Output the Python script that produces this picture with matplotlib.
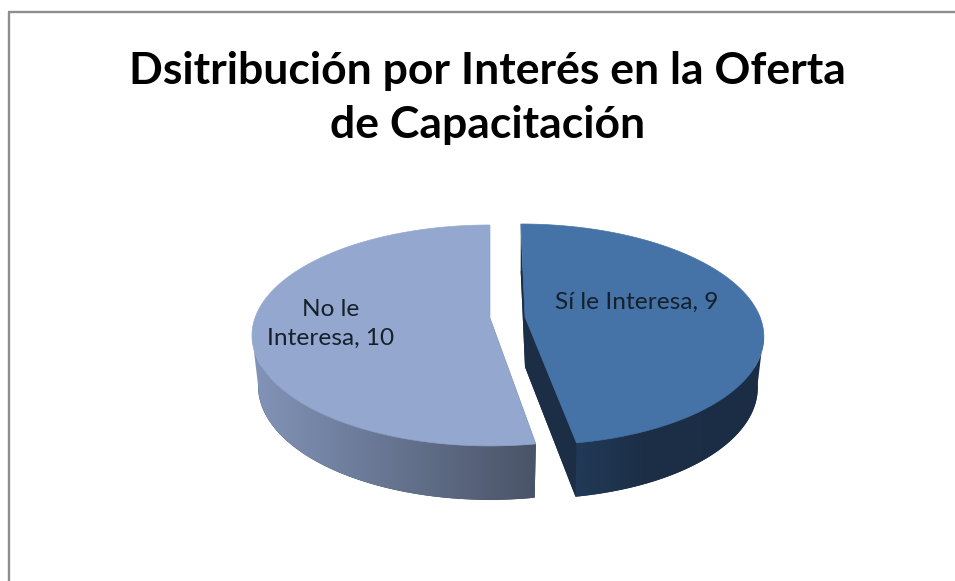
import numpy as np
import matplotlib
matplotlib.use('Agg')
import matplotlib.pyplot as plt
from matplotlib.patches import Polygon

titulo = 'Dsitribución por Interés en la Oferta\nde Capacitación'
categorias = ['Sí le Interesa', 'No le\nInteresa']
valores = [9, 10]

ANCHO, ALTO = 955, 581
COLOR_BORDE = '#8e8e8e'
COLOR_OSCURO = '#1c2e45'


def Proyectar(t, vertice, shear, ancho, alto, k=0.158):
    # t es el angulo desde arriba en sentido horario, con perspectiva simple
    u = np.sin(t)
    v = -np.cos(t)
    d = 1 - k * v
    dy = alto * v / d
    return vertice[0] + ancho * u / d + shear * dy, vertice[1] + dy


def DibujarPorcion(ax, t0, t1, vertice, shear, color, colores_lado):
    t = np.linspace(t0, t1, 300)
    xa, ya = Proyectar(t, vertice, shear, 235, 107.7)
    abajo = (vertice[0], vertice[1] + 50)
    xb, yb = Proyectar(t, abajo, shear, 229, 111)

    # cara interna y base
    base = np.column_stack([np.r_[abajo[0], xb], np.r_[abajo[1], yb]])
    ax.add_patch(Polygon(base, fc=COLOR_OSCURO, ec='none', zorder=1))
    frente = np.column_stack([[xa[0], xb[0], abajo[0], vertice[0]],
                              [ya[0], yb[0], abajo[1], vertice[1]]])
    ax.add_patch(Polygon(frente, fc=COLOR_OSCURO, ec='none', zorder=1))
    fin = np.column_stack([[xa[-1], xb[-1], abajo[0], vertice[0]],
                           [ya[-1], yb[-1], abajo[1], vertice[1]]])
    ax.add_patch(Polygon(fin, fc=COLOR_OSCURO, ec='none', zorder=1))

    # lado curvo con degradado, solo la parte de adelante
    vis = np.cos(t) < -0.15
    lado = np.column_stack([np.r_[xa[vis], xb[vis][::-1]], np.r_[ya[vis], yb[vis][::-1]]])
    parche = Polygon(lado, fc='none', ec='none', zorder=2)
    ax.add_patch(parche)
    cmap = matplotlib.colors.LinearSegmentedColormap.from_list('lado', colores_lado)
    img = ax.imshow(np.linspace(0, 1, 256).reshape(1, -1), cmap=cmap, aspect='auto', zorder=2,
                    extent=(lado[:, 0].min(), lado[:, 0].max(), ALTO, 0))
    img.set_clip_path(parche)

    # cara de arriba
    arriba = np.column_stack([np.r_[vertice[0], xa], np.r_[vertice[1], ya]])
    ax.add_patch(Polygon(arriba, fc=color, ec=color, lw=0.5, zorder=3))


fig = plt.figure(figsize=(ANCHO / 100, ALTO / 100), dpi=100)
ax = fig.add_axes([0, 0, 1, 1])
ax.set_xlim(0, ANCHO)
ax.set_ylim(ALTO, 0)
ax.axis('off')

# borde del grafico, solo se ve arriba y a la izquierda en la captura
ax.plot([8.7, 8.7], [ALTO, 12.2], color=COLOR_BORDE, lw=1.7, solid_capstyle='butt', zorder=1)
ax.plot([7.5, ANCHO], [12.2, 12.2], color=COLOR_BORDE, lw=1.7, solid_capstyle='butt', zorder=1)

corte = 2 * np.pi * valores[0] / sum(valores)
DibujarPorcion(ax, corte, 2 * np.pi, (490, 318), 0.0, '#94a8cf', ['#8294b8', '#4a5468'])
DibujarPorcion(ax, 0, corte, (525, 317), 0.045, '#4673a7',
               [(0, '#223a58'), (0.35, '#1c2f47'), (1, '#1b2d44')])

ax.set_xlim(0, ANCHO)
ax.set_ylim(ALTO, 0)

ax.text(487.5, 98, titulo, family='Lato', weight='bold', fontsize=32, color='black',
        ha='center', va='center', linespacing=1.44, zorder=5)

etiquetas = [f'{c}, {v}' for c, v in zip(categorias, valores)]
ax.text(637, 302, etiquetas[0], family='Lato', fontsize=17.6, color='#16202b',
        ha='center', va='center', zorder=5)
ax.text(331, 324, etiquetas[1], family='Lato', fontsize=17.6, color='#16202b',
        ha='center', va='center', linespacing=1.42, zorder=5)

fig.savefig('out.png', dpi=100)
plt.close()
